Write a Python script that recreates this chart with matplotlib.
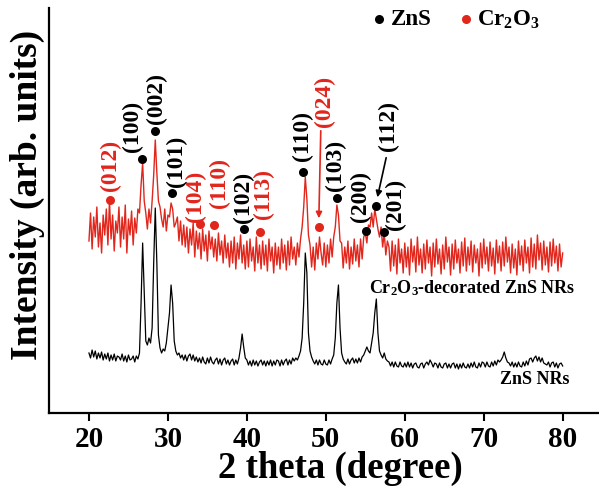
import matplotlib
matplotlib.use("Agg")
import matplotlib.pyplot as plt
import numpy as np

plt.rcParams['font.family'] = ['Liberation Serif', 'DejaVu Serif']
plt.rcParams['font.weight'] = 'bold'
plt.rcParams['mathtext.fontset'] = 'custom'
plt.rcParams['mathtext.rm'] = 'Liberation Serif:bold'
plt.rcParams['mathtext.bf'] = 'Liberation Serif:bold'
plt.rcParams['mathtext.it'] = 'Liberation Serif:bold'

RED = '#e1261c'

# 2 theta grid of the scans (degree)
theta = np.arange(0, 301) * 0.2 + 20.0

# Cr2O3-decorated ZnS NRs (arb. units)
cr_counts = [
    172, 200, 164, 196, 176, 206, 166, 190, 160, 198,
    178, 204, 168, 212, 174, 198, 162, 192, 180, 206,
    166, 196, 174, 208, 160, 194, 178, 202, 168, 195,
    180, 204, 200, 228, 250, 212, 200, 184, 204, 190,
    212, 238, 273, 240, 212, 206, 194, 186, 204, 182,
    198, 196, 210, 204, 186, 190, 196, 172, 192, 168,
    188, 166, 186, 160, 184, 168, 190, 156, 182, 164,
    180, 154, 184, 162, 178, 152, 182, 164, 176, 156,
    174, 152, 180, 158, 172, 150, 178, 155, 170, 146,
    172, 150, 176, 144, 170, 154, 178, 150, 168, 144,
    172, 146, 174, 152, 166, 142, 176, 150, 168, 144,
    172, 148, 168, 142, 174, 152, 166, 140, 170, 148,
    166, 144, 174, 150, 168, 143, 172, 148, 176, 154,
    166, 148, 170, 156, 174, 186, 206, 236, 214, 178,
    168, 146, 166, 143, 170, 154, 176, 160, 148, 170,
    146, 168, 150, 174, 156, 176, 186, 208, 198, 172,
    170, 145, 166, 150, 172, 144, 166, 149, 174, 152,
    168, 146, 174, 154, 176, 180, 170, 188, 186, 200,
    186, 204, 194, 184, 176, 186, 166, 180, 158, 172,
    166, 142, 172, 147, 168, 139, 174, 150, 164, 140,
    170, 146, 166, 138, 174, 151, 167, 141, 176, 148,
    164, 140, 169, 144, 173, 150, 166, 137, 170, 146,
    174, 149, 164, 139, 168, 144, 176, 151, 166, 138,
    169, 144, 173, 150, 164, 140, 171, 147, 175, 142,
    166, 148, 172, 141, 168, 150, 164, 137, 170, 145,
    174, 149, 166, 142, 171, 147, 165, 139, 173, 150,
    167, 142, 171, 147, 176, 151, 166, 140, 169, 145,
    164, 138, 172, 148, 167, 142, 173, 150, 166, 140,
    175, 146, 169, 144, 178, 153, 170, 143, 172, 148,
    166, 141, 171, 147, 174, 150, 167, 142, 169, 146,
    160,
]

# pure ZnS NRs (arb. units)
zns_counts = [
    60, 55, 63, 56, 62, 54, 60, 55, 61, 53,
    59, 54, 60, 52, 58, 53, 59, 52, 57, 56,
    53, 59, 52, 57, 51, 58, 53, 54, 57, 51,
    57, 54, 60, 110, 170, 120, 72, 68, 75, 70,
    85, 150, 205, 150, 78, 65, 60, 64, 62, 70,
    85, 100, 128, 110, 72, 62, 58, 60, 55, 58,
    53, 58, 52, 57, 59, 53, 58, 52, 56, 51,
    55, 50, 56, 51, 49, 55, 50, 56, 51, 49,
    53, 55, 49, 54, 48, 53, 55, 49, 53, 48,
    52, 54, 48, 53, 49, 55, 65, 79, 66, 55,
    53, 48, 52, 47, 53, 48, 52, 47, 51, 53,
    48, 52, 47, 52, 48, 53, 47, 52, 48, 53,
    52, 47, 53, 48, 52, 54, 48, 53, 49, 55,
    52, 55, 53, 57, 62, 75, 110, 160, 140, 80,
    62, 56, 52, 49, 53, 48, 53, 49, 48, 53,
    49, 48, 53, 49, 54, 58, 75, 110, 128, 85,
    60, 54, 51, 49, 54, 49, 53, 55, 50, 54,
    50, 55, 51, 56, 58, 62, 66, 62, 60, 70,
    80, 100, 114, 80, 62, 58, 55, 60, 54, 52,
    51, 47, 51, 46, 51, 47, 46, 51, 47, 46,
    50, 46, 51, 46, 50, 45, 49, 50, 46, 45,
    49, 50, 45, 49, 51, 48, 53, 50, 46, 50,
    49, 45, 50, 46, 45, 49, 50, 45, 49, 45,
    49, 50, 45, 49, 44, 49, 45, 50, 46, 45,
    49, 45, 50, 46, 51, 46, 45, 50, 46, 51,
    50, 46, 51, 47, 46, 51, 47, 52, 48, 53,
    51, 53, 56, 61, 55, 51, 50, 47, 51, 46,
    50, 46, 51, 47, 46, 51, 47, 52, 48, 54,
    55, 51, 55, 57, 52, 56, 51, 55, 50, 49,
    48, 51, 46, 50, 51, 46, 50, 45, 49, 50,
    47,
]

# reflection markers: position, height of dot, label, label position, phase
refl_theta = [22.66, 34.05, 35.82, 41.65, 49.11,
              26.71, 28.35, 30.51, 39.62, 47.09, 51.39, 55.06, 56.33, 57.34]
refl_height = [213, 189, 188, 181, 186,
               254, 282, 220, 184, 241, 215, 182, 207, 181]
refl_label = ['(012)', '(104)', '(110)', '(113)', '(024)',
              '(100)', '(002)', '(101)', '(102)', '(110)', '(103)', '(200)', '(112)', '(201)']
label_theta = [22.66, 33.54, 36.58, 42.1, 49.87,
               25.57, 28.61, 31.14, 39.55, 47.09, 51.27, 54.43, 57.97, 58.86]
label_height = [248, 217, 230, 219, 312,
                287, 315, 252, 216, 277, 248, 216, 287, 209]
refl_phase = ['Cr2O3'] * 5 + ['ZnS'] * 9

fig = plt.figure(figsize=(5.99, 4.86), dpi=100)
ax = fig.add_axes([49 / 599, 73 / 486, 550 / 599, 405 / 486])

ax.plot(theta, zns_counts, color='black', lw=0.9)
ax.plot(theta, cr_counts, color=RED, lw=1.0)

for t, h, lab, lt, lh, ph in zip(refl_theta, refl_height, refl_label,
                                 label_theta, label_height, refl_phase):
    c = RED if ph == 'Cr2O3' else 'black'
    ax.plot(t, h, 'o', color=c, ms=6.5, mec='none')
    ax.text(lt, lh, lab, rotation=90, ha='center', va='center', color=c,
            fontsize=17, fontweight='bold')

# arrows for (024) and (112)
ax.annotate('', xy=(49.11, 192), xytext=(49.37, 285),
            arrowprops=dict(arrowstyle='-|>', color=RED, lw=1.2, mutation_scale=9))
ax.annotate('', xy=(56.46, 213), xytext=(57.72, 258),
            arrowprops=dict(arrowstyle='-|>', color='black', lw=1.2, mutation_scale=9))

# legend
ax.plot(56.71, 394, 'o', color='black', ms=6.5, mec='none')
ax.text(58.3, 393, 'ZnS', fontsize=16.5, fontweight='bold', va='center', ha='left')
ax.plot(67.72, 394, 'o', color=RED, ms=6.5, mec='none')
ax.text(69.2, 393, r'Cr$_\mathbf{2}$O$_\mathbf{3}$', fontsize=16.5,
        fontweight='bold', va='center', ha='left')

ax.text(68.48, 125, r'Cr$_\mathbf{2}$O$_\mathbf{3}$-decorated ZnS NRs', fontsize=13,
        fontweight='bold', ha='center', va='center')
ax.text(76.46, 33, 'ZnS NRs', fontsize=13, fontweight='bold', ha='center', va='center')

ax.set_xlim(14.94, 84.6)
ax.set_ylim(0, 405)
ax.set_xticks([20, 30, 40, 50, 60, 70, 80])
ax.set_yticks([])
ax.tick_params(axis='x', direction='out', length=6, width=1.5, labelsize=21, pad=3)
for lbl in ax.get_xticklabels():
    lbl.set_fontweight('bold')
ax.spines['top'].set_visible(False)
ax.spines['right'].set_visible(False)
ax.spines['bottom'].set_linewidth(1.6)
ax.spines['left'].set_linewidth(1.6)

fig.text(340 / 599, 8 / 486, '2 theta (degree)', fontsize=26.5,
         fontweight='bold', ha='center', va='baseline')
fig.text(27 / 599, 1 - 195 / 486, 'Intensity (arb. units)', fontsize=27,
         fontweight='bold', ha='center', va='center', rotation=90)

fig.savefig('out.png', dpi=100)
